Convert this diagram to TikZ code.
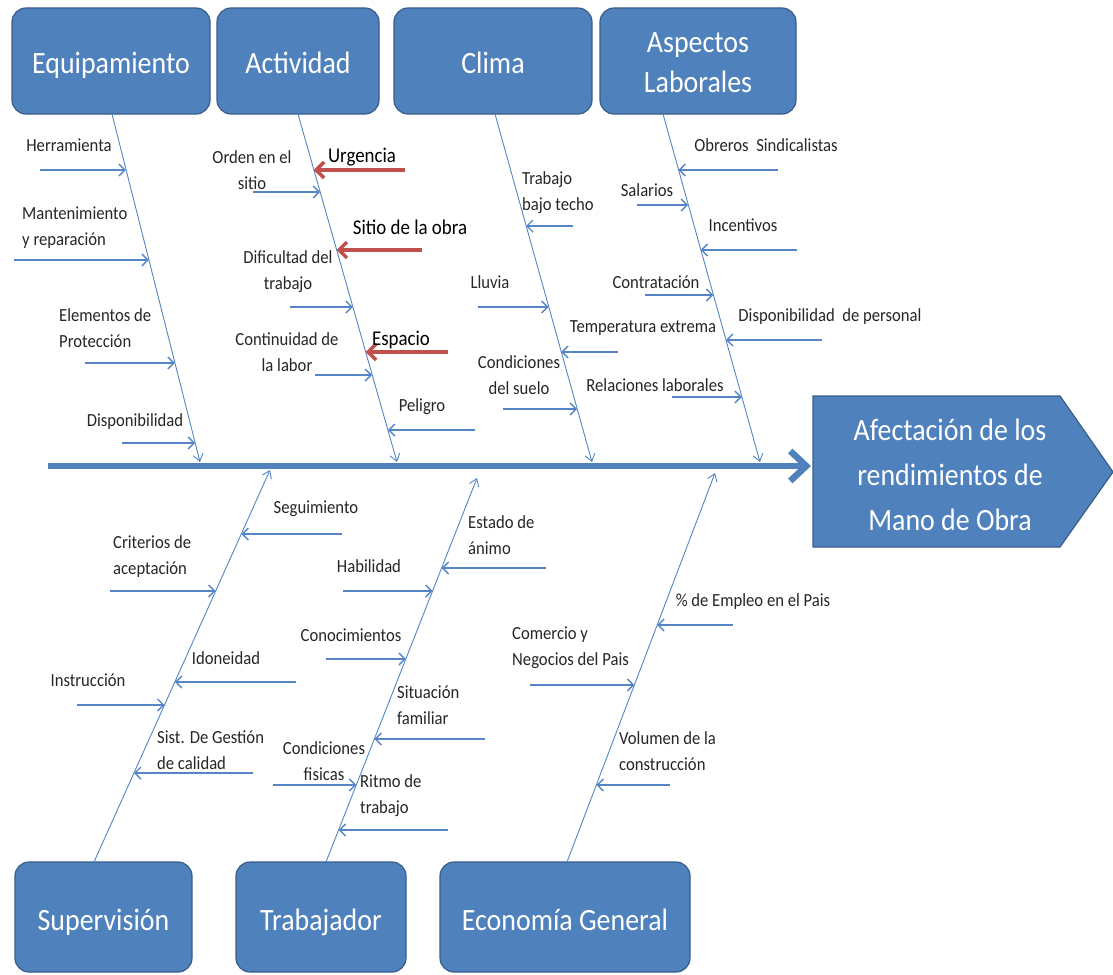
\documentclass[tikz,border=0pt]{standalone}
\usepackage{fontspec}
\setmainfont{Carlito}[FakeStretch=0.9]
\usetikzlibrary{arrows.meta}
\definecolor{boxblue}{HTML}{4F81BD}
\definecolor{boxline}{HTML}{385D8A}
\definecolor{lineblue}{HTML}{5585C5}
\definecolor{redarr}{HTML}{C0504D}
\newcommand\myrib[5][rib]{\coordinate (#2s) at (#3,#5); \coordinate (#2e) at (#4,#5); \draw[#1] (#2s) -- (#2e);}
\begin{document}
\begin{tikzpicture}[x=1pt,y=-1pt,
  catbox/.style={draw=boxline, line width=1.2pt, fill=boxblue, rounded corners=14pt, inner sep=0pt},
  cattext/.style={text=white, font=\fontsize{31}{40}\selectfont, align=center, inner sep=0pt},
  onetitle/.style={cattext, text height=22pt, text depth=7pt, yshift=-5.5pt},
  bone/.style={draw=lineblue, line width=0.9pt, -{Straight Barb[length=7pt,width=10pt]}},
  rib/.style={draw=lineblue, line width=1.4pt, -{Straight Barb[length=6pt,width=12pt]}},
  redrib/.style={draw=redarr, line width=3.5pt, -{Straight Barb[length=8pt,width=16pt]}},
  spine/.style={draw=boxblue, line width=6.5pt, -{Straight Barb[length=16pt,width=30pt]}},
  lbl/.style={font=\fontsize{18.5}{26}\selectfont, inner sep=0pt, text=black!85},
  lblred/.style={font=\fontsize{21}{26}\selectfont, inner sep=0pt, text=black},
]
\useasboundingbox (0,0) rectangle (1113,974);

% category boxes
\node[catbox, minimum width=198pt, minimum height=106pt] (equip) at (111,61) {};
\node[catbox, minimum width=162pt, minimum height=106pt] (activ) at (298,61) {};
\node[catbox, minimum width=198pt, minimum height=106pt] (clima) at (493,61) {};
\node[catbox, minimum width=196pt, minimum height=106pt] (aspec) at (698,61) {};
\node[catbox, minimum width=177pt, minimum height=110pt] (superv) at (103.5,917) {};
\node[catbox, minimum width=170pt, minimum height=110pt] (trabaj) at (321,917) {};
\node[catbox, minimum width=250pt, minimum height=110pt] (econ) at (565,917) {};
\node[onetitle] (tequip) at (equip.center) {Equipamiento};
\node[onetitle] (tactiv) at (activ.center) {Actividad};
\node[onetitle] (tclima) at (clima.center) {Clima};
\node[cattext, yshift=-2pt] (taspec) at (aspec.center) {Aspectos\\Laborales};
\node[onetitle] (tsuperv) at (superv.center) {Supervisión};
\node[onetitle] (ttrabaj) at (trabaj.center) {Trabajador};
\node[onetitle] (tecon) at (econ.center) {Economía General};

% head
\path[fill=boxblue, draw=boxline, line width=1.2pt] (813,396) -- (1060,396) -- (1113,472) -- (1060,547) -- (813,547) -- cycle;
\node[text=white, font=\fontsize{31}{45}\selectfont, align=center, inner sep=0pt] (head) at (950,475) {Afectación de los\\rendimientos de\\Mano de Obra};

% spine
\coordinate (tail) at (48,466);
\coordinate (spend) at (811,466);
\draw[spine] (tail) -- (spend);

% bones
\coordinate (eqT) at (112,114); \coordinate (eqB) at (200,462);
\coordinate (acT) at (298,114); \coordinate (acB) at (397,462);
\coordinate (clT) at (495,114); \coordinate (clB) at (592,462);
\coordinate (asT) at (663,114); \coordinate (asB) at (760,462);
\coordinate (suB) at (94,862);  \coordinate (suT) at (270,470);
\coordinate (trB) at (326,862); \coordinate (trT) at (477,478);
\coordinate (ecB) at (567,862); \coordinate (ecT) at (715,473);
\draw[bone] (eqT) -- (eqB);
\draw[bone] (acT) -- (acB);
\draw[bone] (clT) -- (clB);
\draw[bone] (asT) -- (asB);
\draw[bone] (suB) -- (suT);
\draw[bone] (trB) -- (trT);
\draw[bone] (ecB) -- (ecT);

% ribs: Equipamiento
\myrib{e1}{40}{125.9}{170}
\myrib{e2}{14}{148.8}{260}
\myrib{e3}{85}{174.9}{363}
\myrib{e4}{122}{195.2}{443}
% Actividad
\myrib[redrib]{a1}{405}{313.7}{170}
\myrib{a2}{253}{320}{192}
\myrib[redrib]{a3}{422}{336.5}{250}
\myrib{a4}{290}{352.8}{307}
\myrib[redrib]{a5}{448}{365.6}{352}
\myrib{a6}{315}{372.2}{375}
\myrib{a7}{475}{387.9}{430}
% Clima
\myrib{c1}{573}{526}{226}
\myrib{c2}{478}{548.7}{307}
\myrib{c3}{618}{561.2}{352}
\myrib{c4}{503}{577.2}{409}
% Aspectos laborales
\myrib{l1}{778}{678.4}{170}
\myrib{l2}{637}{688.2}{205}
\myrib{l3}{797}{700.7}{250}
\myrib{l4}{645}{713.3}{295}
\myrib{l5}{822}{725.9}{340}
\myrib{l6}{672}{741.8}{397}
% Supervision
\myrib{s1}{342}{241.3}{534}
\myrib{s2}{110}{215.7}{591}
\myrib{s3}{296}{174.8}{682}
\myrib{s4}{77}{164.5}{705}
\myrib{s5}{253}{134}{773}
% Trabajador
\myrib{t1}{546}{441.6}{568}
\myrib{t2}{343}{432.6}{591}
\myrib{t3}{326}{405.8}{659}
\myrib{t4}{485}{374.4}{739}
\myrib{t5}{273}{356.3}{785}
\myrib{t6}{448}{338.6}{830}
% Economia
\myrib{g1}{733}{657.2}{625}
\myrib{g2}{530}{634.3}{685}
\myrib{g3}{670}{596.3}{785}

% labels: Equipamiento
\node[lbl] (le1) at (69,145) {Herramienta};
\node[lbl, anchor=west, align=left] (le2) at (22,228) {Mantenimiento\\y reparación};
\node[lbl, anchor=west, align=left] (le3) at (59,328) {Elementos de\\Protección};
\node[lbl] (le4) at (135,422) {Disponibilidad};
% Actividad
\node[lbl, align=center] (la2) at (252,170) {Orden en el\\sitio};
\node[lblred] (la1) at (362,157) {Urgencia};
\node[lblred] (la3) at (410,227) {Sitio de la obra};
\node[lbl, align=center] (la4) at (288,272) {Dificultad del\\trabajo};
\node[lbl, align=center] (la6) at (287,352) {Continuidad de\\la labor};
\node[lblred] (la5) at (401,340) {Espacio};
\node[lbl] (la7) at (422,407) {Peligro};
% Clima
\node[lbl, anchor=west, align=left] (lc1) at (522,193) {Trabajo\\bajo techo};
\node[lbl] (lc2) at (490,282) {Lluvia};
\node[lbl] (lc3) at (643,328) {Temperatura extrema};
\node[lbl, align=center] (lc4) at (519,375) {Condiciones\\del suelo};
% Aspectos
\node[lbl] (ll1) at (766,145) {Obreros~~Sindicalistas};
\node[lbl] (ll2) at (647,190) {Salarios};
\node[lbl] (ll3) at (743,225) {Incentivos};
\node[lbl] (ll4) at (656,282) {Contratación};
\node[lbl] (ll5) at (830,317) {Disponibilidad~~de personal};
\node[lbl] (ll6) at (655,385) {Relaciones laborales};
% Supervision
\node[lbl] (ls1) at (316,509) {Seguimiento};
\node[lbl, anchor=west, align=left] (ls2) at (113,557) {Criterios de\\aceptación};
\node[lbl] (ls3) at (226,658) {Idoneidad};
\node[lbl] (ls4) at (88,680) {Instrucción};
\node[lbl, anchor=west, align=left] (ls5) at (157,750) {Sist. De Gestión\\de calidad};
% Trabajador
\node[lbl, anchor=west, align=left] (lt1) at (468,535) {Estado de\\ánimo};
\node[lbl] (lt2) at (369,566) {Habilidad};
\node[lbl] (lt3) at (351,635) {Conocimientos};
\node[lbl, anchor=west, align=left] (lt4) at (397,705) {Situación\\familiar};
\node[lbl, align=center] (lt5) at (324,761) {Condiciones\\fisicas};
\node[lbl, anchor=west, align=left] (lt6) at (360,796) {Ritmo de\\trabajo};
% Economia
\node[lbl] (lg1) at (753,602) {\% de Empleo en el Pais};
\node[lbl, anchor=west, align=left] (lg2) at (512,648) {Comercio y\\Negocios del Pais};
\node[lbl, anchor=west, align=left] (lg3) at (619,751) {Volumen de la\\construcción};
\end{tikzpicture}
\end{document}
